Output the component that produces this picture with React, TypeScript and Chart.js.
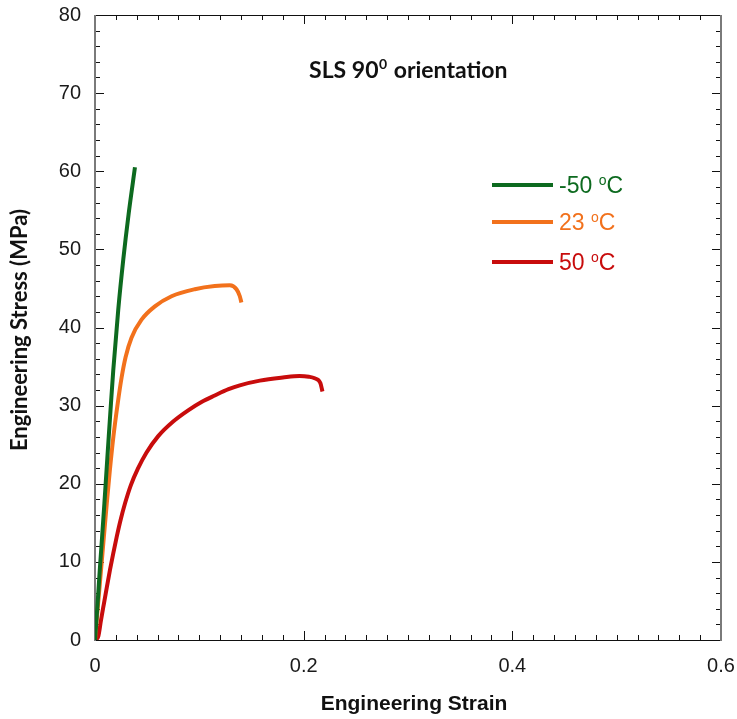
import React, { useEffect, useRef } from "react";
import { Chart, registerables } from "chart.js";

Chart.register(...registerables);

// ---- data ----
const seriesLabels = ["-50", "23", "50"];
const seriesColors = ["#0d6a1f", "#f2711c", "#c80c0c"];

const strainM50 = [0, 0.0025, 0.0046, 0.0068, 0.009, 0.0111, 0.0132, 0.0153, 0.0175, 0.0223, 0.0271, 0.0322, 0.0383];
const stressM50 = [0, 4.7, 9.0, 13.2, 17.5, 21.8, 26.1, 30.3, 34.5, 42.3, 48.7, 54.5, 60.5];

const strain23 = [0, 0.003, 0.0058, 0.0085, 0.0113, 0.0143, 0.0177, 0.0218, 0.0255, 0.0293, 0.035, 0.0446, 0.0574, 0.0734, 0.0957, 0.1148, 0.1292, 0.1356, 0.1388, 0.1403];
const stress23 = [0, 4.7, 9.0, 13.2, 17.5, 21.8, 26.1, 30.3, 33.6, 36.2, 38.7, 41.0, 42.7, 44.0, 44.9, 45.3, 45.4, 44.9, 44.0, 43.2];

const strain50 = [0, 0.0032, 0.0057, 0.0086, 0.0114, 0.0144, 0.0175, 0.0208, 0.0244, 0.0288, 0.0343, 0.041, 0.0494, 0.0606, 0.0752, 0.0893, 0.1025, 0.1148, 0.128, 0.1388, 0.158, 0.18, 0.196, 0.205, 0.2105, 0.216, 0.218];
const stress50 = [0, 0.5, 2.5, 4.7, 6.8, 9.0, 11.1, 13.2, 15.3, 17.5, 19.8, 21.9, 24.0, 26.1, 28.0, 29.4, 30.5, 31.3, 32.1, 32.6, 33.2, 33.6, 33.8, 33.7, 33.5, 32.9, 31.8];

const xTickValues = [0, 0.2, 0.4, 0.6];
const yTickValues = [0, 10, 20, 30, 40, 50, 60, 70, 80];

const chartTitle = ["SLS 90", "0", " orientation"];
const xTitle = "Engineering Strain";
const yTitle = "Engineering Stress (MPa)";

const toPts = (xs: number[], ys: number[]) => xs.map((x, i) => ({ x, y: ys[i] }));

const framePlugin = {
  id: "framePlugin",
  beforeDatasetsDraw(chart: any) {
    const { ctx, chartArea: a, scales } = chart;
    const xs = scales.x;
    const ys = scales.y;
    ctx.save();
    ctx.strokeStyle = "#111";
    ctx.lineWidth = 1;
    for (let i = 0; i <= 30; i++) {
      const v = i * 0.02;
      const px = Math.round(xs.getPixelForValue(v)) + 0.5;
      const major = i % 10 === 0;
      const len = major ? 9 : 5;
      ctx.beginPath();
      ctx.moveTo(px, a.bottom);
      ctx.lineTo(px, a.bottom - len);
      ctx.moveTo(px, a.top);
      ctx.lineTo(px, a.top + len);
      ctx.stroke();
    }
    for (let i = 0; i <= 40; i++) {
      const v = i * 2;
      const py = Math.round(ys.getPixelForValue(v)) + 0.5;
      const major = i % 5 === 0;
      const len = major ? 9 : 5;
      ctx.beginPath();
      ctx.moveTo(a.left, py);
      ctx.lineTo(a.left + len, py);
      ctx.moveTo(a.right, py);
      ctx.lineTo(a.right - len, py);
      ctx.stroke();
    }
    ctx.strokeStyle = "#111";
    ctx.lineWidth = 1;
    ctx.beginPath();
    ctx.moveTo(a.left, a.bottom + 0.5);
    ctx.lineTo(a.right, a.bottom + 0.5);
    ctx.moveTo(a.left, a.top + 0.5);
    ctx.lineTo(a.right, a.top + 0.5);
    ctx.stroke();
    ctx.strokeStyle = "#7a7a7a";
    ctx.lineWidth = 2;
    ctx.beginPath();
    ctx.moveTo(a.left, a.top);
    ctx.lineTo(a.left, a.bottom + 1);
    ctx.moveTo(a.right, a.top);
    ctx.lineTo(a.right, a.bottom + 1);
    ctx.stroke();
    ctx.restore();
  },
  afterDraw(chart: any) {
    const { ctx } = chart;
    ctx.save();
    ctx.fillStyle = "#111";
    ctx.textBaseline = "alphabetic";
    const big = "bold 23px Lato, 'Open Sans', sans-serif";
    const small = "bold 14px Lato, 'Open Sans', sans-serif";
    ctx.font = big;
    const w1 = ctx.measureText(chartTitle[0]).width;
    const w3 = ctx.measureText(chartTitle[2]).width;
    ctx.font = small;
    const w2 = ctx.measureText(chartTitle[1]).width + 1;
    const total = w1 + w2 + w3;
    let tx = 408 - total / 2;
    const ty = 78;
    ctx.font = big;
    ctx.textAlign = "left";
    ctx.fillText(chartTitle[0], tx, ty);
    tx += w1 + 0.5;
    ctx.font = small;
    ctx.fillText(chartTitle[1], tx, ty - 9);
    tx += w2;
    ctx.font = big;
    ctx.fillText(chartTitle[2], tx, ty);

    const legendY = [185, 222, 262];
    seriesLabels.forEach((lab, i) => {
      const y = legendY[i];
      ctx.strokeStyle = seriesColors[i];
      ctx.lineWidth = 4;
      ctx.beginPath();
      ctx.moveTo(492, y);
      ctx.lineTo(553, y);
      ctx.stroke();
      ctx.fillStyle = seriesColors[i];
      ctx.textBaseline = "alphabetic";
      ctx.textAlign = "left";
      const base = y + 8;
      let lx = 559;
      ctx.font = "23px 'Liberation Sans', Arial, sans-serif";
      const part1 = lab + " ";
      ctx.fillText(part1, lx, base);
      lx += ctx.measureText(part1).width;
      ctx.font = "14px 'Liberation Sans', Arial, sans-serif";
      ctx.fillText("o", lx, base - 8);
      lx += ctx.measureText("o").width;
      ctx.font = "23px 'Liberation Sans', Arial, sans-serif";
      ctx.fillText("C", lx, base);
    });

    ctx.fillStyle = "#111";
    ctx.textAlign = "center";
    ctx.textBaseline = "middle";
    ctx.font = "bold 21px 'Liberation Sans Narrow', 'Liberation Sans', Arial, sans-serif";
    ctx.fillText(xTitle, 414, 704);
    ctx.save();
    ctx.translate(20, 330);
    ctx.rotate(-Math.PI / 2);
    ctx.font = "bold 22px Lato, 'Open Sans', sans-serif";
    ctx.fillText(yTitle, 0, 0);
    ctx.restore();
    ctx.restore();
  },
};

export default function App() {
  const ref = useRef<HTMLCanvasElement | null>(null);
  useEffect(() => {
    if (!ref.current) return;
    const mk = (i: number, xs: number[], ys: number[]) => ({
      label: seriesLabels[i],
      data: toPts(xs, ys),
      showLine: true,
      borderColor: seriesColors[i],
      backgroundColor: seriesColors[i],
      borderWidth: 4,
      pointRadius: 0,
      cubicInterpolationMode: "monotone" as const,
      fill: false,
    });
    const chart = new Chart(ref.current, {
      type: "scatter",
      data: {
        datasets: [mk(0, strainM50, stressM50), mk(1, strain23, stress23), mk(2, strain50, stress50)],
      },
      plugins: [framePlugin],
      options: {
        animation: false,
        responsive: false,
        maintainAspectRatio: false,
        layout: { padding: { left: 0, right: 16, top: 15, bottom: 0 } },
        plugins: { legend: { display: false }, tooltip: { enabled: false }, title: { display: false } },
        scales: {
          x: {
            type: "linear",
            min: 0,
            max: 0.6,
            afterBuildTicks: (s: any) => {
              s.ticks = xTickValues.map((v) => ({ value: v }));
            },
            afterFit: (s: any) => {
              s.height = 79;
              s.paddingLeft = 0;
              s.paddingRight = 0;
            },
            grid: { display: false, drawTicks: false },
            border: { display: false },
            ticks: {
              padding: 14,
              color: "#1a1a1a",
              font: { family: "'Liberation Sans', Arial, sans-serif", size: 20 },
              maxRotation: 0,
              callback: (v: any) => String(v),
            },
          },
          y: {
            type: "linear",
            min: 0,
            max: 80,
            afterBuildTicks: (s: any) => {
              s.ticks = yTickValues.map((v) => ({ value: v }));
            },
            afterFit: (s: any) => {
              s.width = 95;
              s.paddingTop = 0;
              s.paddingBottom = 0;
            },
            grid: { display: false, drawTicks: false },
            border: { display: false },
            ticks: {
              padding: 14,
              color: "#1a1a1a",
              font: { family: "'Liberation Sans', Arial, sans-serif", size: 20 },
              callback: (v: any) => String(v),
            },
          },
        },
      },
    });
    return () => chart.destroy();
  }, []);
  return (
    <div style={{ position: "fixed", left: 0, top: 0, width: 737, height: 719, background: "#fff" }}>
      <canvas ref={ref} width={737} height={719} style={{ display: "block", width: 737, height: 719 }} />
    </div>
  );
}
